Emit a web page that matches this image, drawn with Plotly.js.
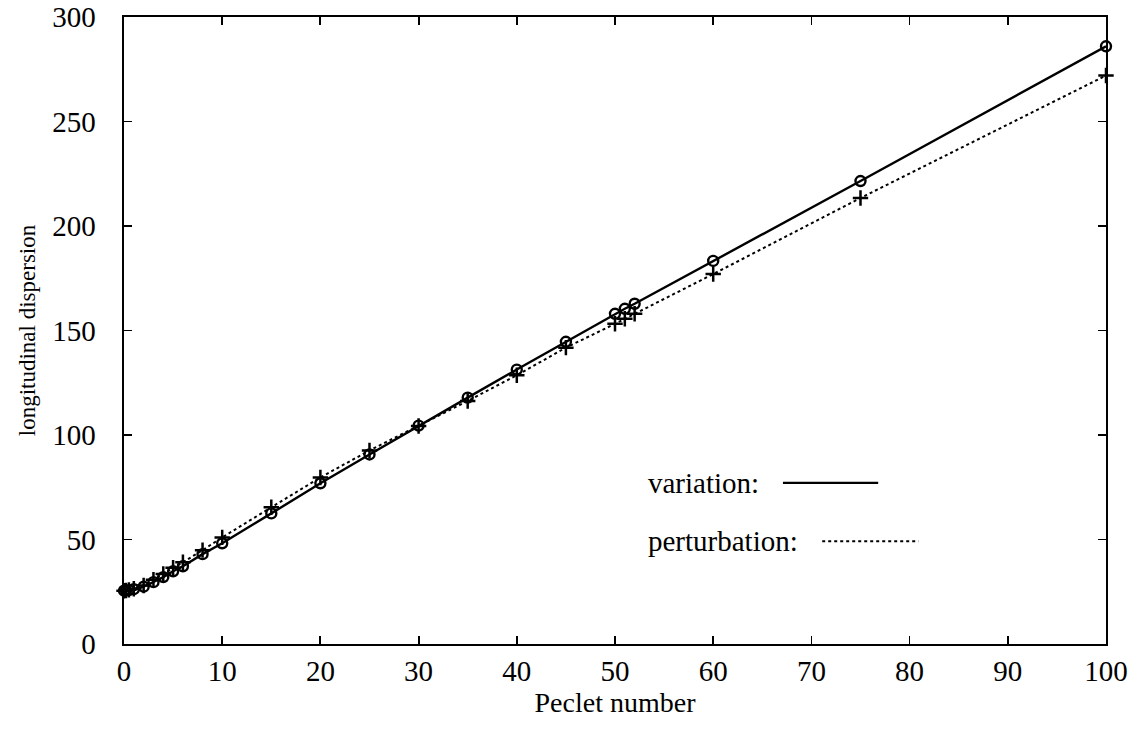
<!DOCTYPE html>
<html>
<head>
<meta charset="utf-8">
<script src="https://cdn.plot.ly/plotly-3.0.1.min.js"></script>
<style>html,body{margin:0;padding:0;background:#fff;}#chart{width:1136px;height:734px;}</style>
</head>
<body>
<div id="chart"></div>
<script>
// Peclet numbers
const peclet = [0, 0.2, 0.5, 1, 2, 3, 4, 5, 6, 8, 10, 15, 20, 25, 30, 35, 40, 45, 50, 51, 52, 60, 75, 100];
// longitudinal dispersion, variation method (circles, solid)
const variation = [25.5, 25.6, 25.8, 26.2, 27.4, 29.6, 32.0, 34.8, 37.2, 43.0, 48.2, 62.5, 76.9, 90.7, 104.5, 117.9, 131.3, 144.6, 158.0, 160.4, 162.8, 183.3, 221.5, 286.0];
// longitudinal dispersion, perturbation method (plus, dotted)
const perturbation = [25.5, 25.6, 25.9, 26.4, 28.0, 30.8, 33.5, 36.5, 39.1, 44.9, 51.0, 65.4, 79.7, 92.6, 104.3, 116.3, 128.6, 141.8, 153.2, 155.6, 158.0, 177.0, 213.4, 272.0];

const xTicks = [0, 10, 20, 30, 40, 50, 60, 70, 80, 90, 100];
const yTicks = [0, 50, 100, 150, 200, 250, 300];
const legendLabels = ['variation:', 'perturbation:'];

const serif = 'Liberation Serif, Times New Roman, serif';

const traces = [
  {
    x: peclet, y: variation, type: 'scatter', mode: 'lines+markers', name: 'variation',
    line: {color: '#000', width: 2.4},
    marker: {symbol: 'circle-open', size: 10, color: '#000', line: {width: 2.4, color: '#000'}},
    showlegend: false, cliponaxis: false
  },
  {
    x: peclet, y: perturbation, type: 'scatter', mode: 'lines+markers', name: 'perturbation',
    line: {color: '#000', width: 2, dash: 'dot'},
    marker: {symbol: 'cross-thin-open', size: 11, color: '#000', line: {width: 2.5, color: '#000'}},
    showlegend: false, cliponaxis: false
  }
];

const layout = {
  width: 1136, height: 734,
  margin: {l: 124, r: 30, t: 17, b: 90},
  paper_bgcolor: '#fff', plot_bgcolor: '#fff',
  font: {family: serif, color: '#000'},
  xaxis: {
    range: [0, 100], tickvals: xTicks, ticktext: xTicks.map(String),
    ticks: 'inside', ticklen: 8, tickwidth: 1.8, tickcolor: '#000',
    showline: true, linewidth: 2.4, linecolor: '#000', mirror: 'ticks',
    showgrid: false, zeroline: false, ticklabelstandoff: 0,
    tickfont: {family: serif, size: 29, color: '#000'},
    title: {text: 'Peclet number', font: {family: serif, size: 28, color: '#000'}, standoff: 6}
  },
  yaxis: {
    range: [0, 300], tickvals: yTicks, ticktext: yTicks.map(String),
    ticks: 'inside', ticklen: 8, tickwidth: 1.8, tickcolor: '#000',
    showline: true, linewidth: 2.4, linecolor: '#000', mirror: 'ticks',
    showgrid: false, zeroline: false, ticklabelstandoff: 20,
    tickfont: {family: serif, size: 29, color: '#000'},
    title: {text: 'longitudinal dispersion', font: {family: serif, size: 23, color: '#000'}, standoff: 10}
  },
  annotations: [
    {xref: 'paper', yref: 'paper', x: 0.532, y: 0.257, xanchor: 'left', yanchor: 'middle',
     text: legendLabels[0], showarrow: false, font: {family: serif, size: 29, color: '#000'}},
    {xref: 'paper', yref: 'paper', x: 0.532, y: 0.164, xanchor: 'left', yanchor: 'middle',
     text: legendLabels[1], showarrow: false, font: {family: serif, size: 29, color: '#000'}}
  ],
  shapes: [
    {type: 'line', xref: 'paper', yref: 'paper', x0: 0.671, x1: 0.768, y0: 0.257, y1: 0.257,
     line: {color: '#000', width: 2.4}},
    {type: 'line', xref: 'paper', yref: 'paper', x0: 0.711, x1: 0.809, y0: 0.164, y1: 0.164,
     line: {color: '#000', width: 2, dash: 'dot'}}
  ]
};

Plotly.newPlot('chart', traces, layout, {staticPlot: true, displayModeBar: false});
</script>
</body>
</html>
